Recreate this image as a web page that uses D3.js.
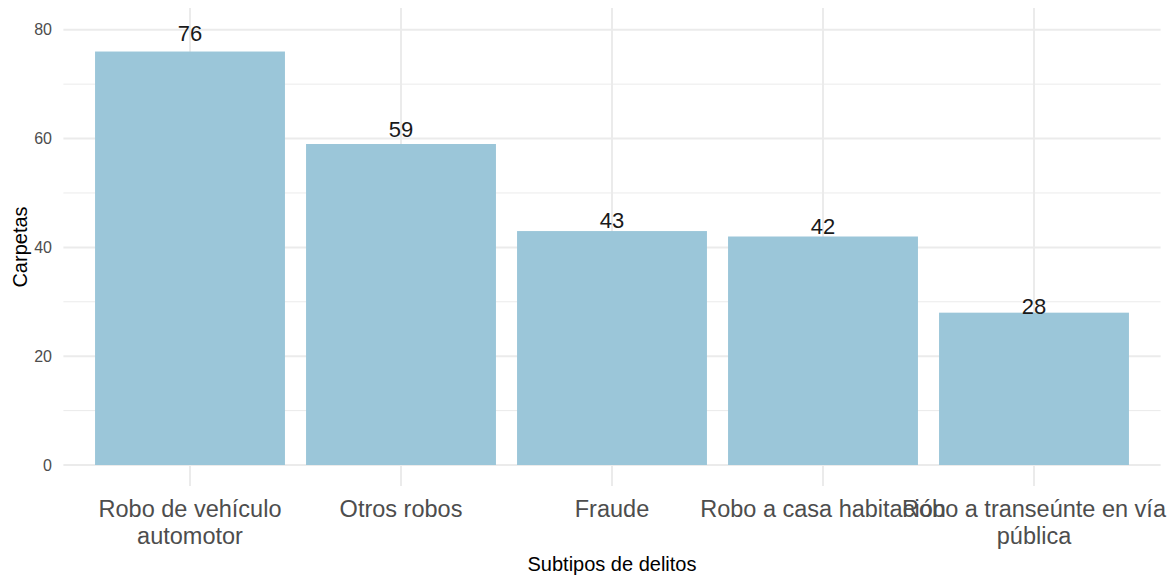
<!DOCTYPE html>
<html>
<head>
<meta charset="utf-8">
<script src="https://cdn.jsdelivr.net/npm/d3@7"></script>
<style>
  body { margin: 0; background: #fff; }
  text { font-family: "Liberation Sans", Arial, sans-serif; }
</style>
</head>
<body>
<div id="chart"></div>
<script>
// data
var categories = ["Robo de vehículo\nautomotor", "Otros robos", "Fraude", "Robo a casa habitación", "Robo a transeúnte en vía\npública"];
var values = [76, 59, 43, 42, 28];
var yTicks = [0, 20, 40, 60, 80];
var yMinor = [10, 30, 50, 70];

var svgWidth = 1171;
var svgHeight = 577;

var panel = { left: 63.4, right: 1160.6, top: 8, bottom: 486 };

var svg = d3.select("#chart")
  .append("svg")
  .attr("width", svgWidth)
  .attr("height", svgHeight);

var data = categories.map(function(c, i) { return { cat: c, n: values[i] }; });

var xScale = d3.scaleBand()
  .domain(categories)
  .range([panel.left, panel.right])
  .paddingInner(0.1)
  .paddingOuter(0.15);

var yScale = d3.scaleLinear()
  .domain([-3.86, 84.0])
  .range([panel.bottom, panel.top]);

// grid
var grid = svg.append("g");
grid.selectAll(".minor")
  .data(yMinor)
  .enter()
  .append("line")
  .attr("x1", panel.left).attr("x2", panel.right)
  .attr("y1", d => yScale(d)).attr("y2", d => yScale(d))
  .attr("stroke", "#ebebeb")
  .attr("stroke-width", 1);

grid.selectAll(".major")
  .data(yTicks)
  .enter()
  .append("line")
  .attr("x1", panel.left).attr("x2", panel.right)
  .attr("y1", d => yScale(d)).attr("y2", d => yScale(d))
  .attr("stroke", "#ebebeb")
  .attr("stroke-width", 2);

grid.selectAll(".vmajor")
  .data(categories)
  .enter()
  .append("line")
  .attr("x1", d => xScale(d) + xScale.bandwidth() / 2)
  .attr("x2", d => xScale(d) + xScale.bandwidth() / 2)
  .attr("y1", panel.top).attr("y2", panel.bottom)
  .attr("stroke", "#ebebeb")
  .attr("stroke-width", 2);

// bars
svg.selectAll(".bar")
  .data(data)
  .enter()
  .append("rect")
  .attr("x", d => xScale(d.cat))
  .attr("width", xScale.bandwidth())
  .attr("y", d => yScale(d.n))
  .attr("height", d => yScale(0) - yScale(d.n))
  .attr("fill", "#9bc6d9");

// value labels
svg.selectAll(".val")
  .data(data)
  .enter()
  .append("text")
  .attr("x", d => xScale(d.cat) + xScale.bandwidth() / 2)
  .attr("y", d => yScale(d.n * 1.045))
  .attr("dy", "0.36em")
  .attr("text-anchor", "middle")
  .attr("font-size", 22)
  .attr("fill", "#1a1a1a")
  .text(d => d.n);

// y axis
var leftAxis = d3.axisLeft(yScale).tickValues(yTicks).tickSize(0).tickPadding(0);
var yAxis = svg.append("g")
  .attr("transform", "translate(52,0)")
  .call(leftAxis);
yAxis.select(".domain").remove();
yAxis.selectAll("text")
  .attr("font-size", 16)
  .attr("font-family", "Liberation Sans, Arial, sans-serif")
  .attr("fill", "#4d4d4d");

// x axis (labels overlap on the right, same as the original)
var bottomAxis = d3.axisBottom(xScale).tickSize(0).tickPadding(0);
var xAxis = svg.append("g")
  .attr("transform", "translate(0,517)")
  .call(bottomAxis);
xAxis.select(".domain").remove();
xAxis.selectAll("text")
  .attr("y", 0)
  .attr("dy", null)
  .attr("font-size", 23.5)
  .attr("font-family", "Liberation Sans, Arial, sans-serif")
  .attr("fill", "#4d4d4d")
  .each(function(d) {
    var t = d3.select(this);
    var lines = d.split("\n");
    t.text(null);
    lines.forEach(function(l, i) {
      t.append("tspan").attr("x", 0).attr("y", i * 27).text(l);
    });
  });

// axis titles
svg.append("text")
  .attr("x", xScale(categories[2]) + xScale.bandwidth() / 2)
  .attr("y", 571)
  .attr("text-anchor", "middle")
  .attr("font-size", 20)
  .attr("fill", "#000")
  .text("Subtipos de delitos");

svg.append("text")
  .attr("transform", "translate(26.5," + (panel.top + panel.bottom) / 2 + ") rotate(-90)")
  .attr("text-anchor", "middle")
  .attr("font-size", 20)
  .attr("fill", "#000")
  .text("Carpetas");
</script>
</body>
</html>
